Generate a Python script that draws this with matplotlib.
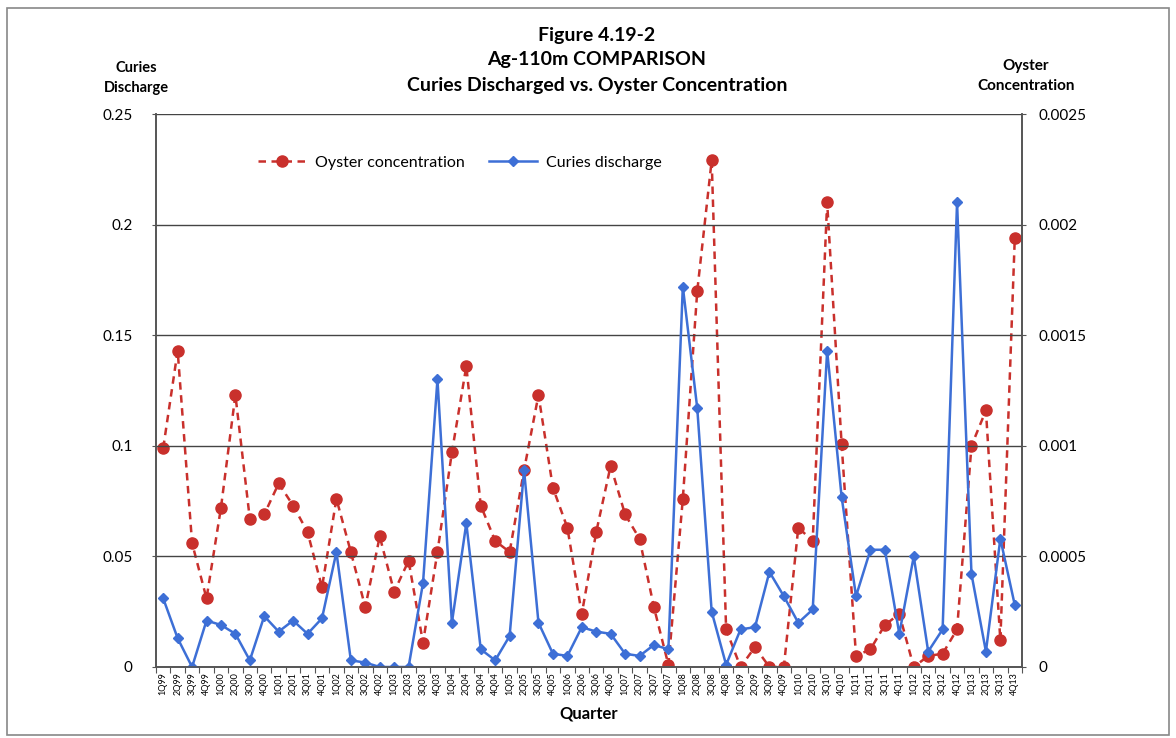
import matplotlib
matplotlib.use("Agg")
import matplotlib.pyplot as plt
from matplotlib.patches import Rectangle
import numpy as np

plt.rcParams['font.family'] = ['Lato', 'DejaVu Sans']

years = ['99', '00', '01', '02', '03', '04', '05', '06', '07', '08', '09', '10', '11', '12', '13']
quarters = [f"{q}Q{y}" for y in years for q in range(1, 5)]

curies_discharge = [0.031, 0.013, 0.0, 0.021, 0.019, 0.015, 0.003, 0.023, 0.016, 0.021,
                    0.015, 0.022, 0.052, 0.003, 0.002, 0.0, 0.0, 0.0, 0.038, 0.130,
                    0.020, 0.065, 0.008, 0.003, 0.014, 0.089, 0.020, 0.006, 0.005, 0.018,
                    0.016, 0.015, 0.006, 0.005, 0.010, 0.008, 0.172, 0.117, 0.025, 0.001,
                    0.017, 0.018, 0.043, 0.032, 0.020, 0.026, 0.143, 0.077, 0.032, 0.053,
                    0.053, 0.015, 0.050, 0.007, 0.017, 0.210, 0.042, 0.007, 0.058, 0.028]

oyster_concentration = [0.00099, 0.00143, 0.00056, 0.00031, 0.00072, 0.00123, 0.00067, 0.00069, 0.00083, 0.00073,
                        0.00061, 0.00036, 0.00076, 0.00052, 0.00027, 0.00059, 0.00034, 0.00048, 0.00011, 0.00052,
                        0.00097, 0.00136, 0.00073, 0.00057, 0.00052, 0.00089, 0.00123, 0.00081, 0.00063, 0.00024,
                        0.00061, 0.00091, 0.00069, 0.00058, 0.00027, 0.00001, 0.00076, 0.00170, 0.00229, 0.00017,
                        0.0, 0.00009, 0.0, 0.0, 0.00063, 0.00057, 0.00210, 0.00101, 0.00005, 0.00008,
                        0.00019, 0.00024, 0.0, 0.00005, 0.00006, 0.00017, 0.00100, 0.00116, 0.00012, 0.00194]

left_ticks = [0, 0.05, 0.1, 0.15, 0.2, 0.25]
left_labels = ['0', '0.05', '0.1', '0.15', '0.2', '0.25']
right_ticks = [0, 0.0005, 0.001, 0.0015, 0.002, 0.0025]
right_labels = ['0', '0.0005', '0.001', '0.0015', '0.002', '0.0025']

RED = '#c9302c'
BLUE = '#3d6fd6'

fig = plt.figure(figsize=(11.76, 7.38), dpi=100)
ax = fig.add_axes([156/1176, 1-667/738, (1022-156)/1176, (667-114)/738])
ax2 = ax.twinx()
ax.set_zorder(ax2.get_zorder() + 1)
ax.patch.set_visible(False)

x = np.arange(len(quarters))
l2, = ax2.plot(x, oyster_concentration, color=RED, linestyle=(0, (3, 2.2)), linewidth=1.8,
               marker='o', markersize=8, label='Oyster concentration')
l1, = ax.plot(x, curies_discharge, color=BLUE, linestyle='-', linewidth=1.8,
              marker='D', markersize=5.5, label='Curies discharge')

ax.set_xlim(-0.5, len(quarters) - 0.5)
ax.set_ylim(0, 0.25)
ax2.set_ylim(0, 0.0025)
ax.set_yticks(left_ticks)
ax.set_yticklabels(left_labels)
ax2.set_yticks(right_ticks)
ax2.set_yticklabels(right_labels)
ax.tick_params(axis='y', length=3, color='#555555', labelsize=11, pad=14)
ax2.tick_params(axis='y', length=3, color='#555555', labelsize=11, pad=9)

ax.set_xticks(np.arange(len(quarters) + 1) - 0.5)
ax.set_xticklabels([])
ax.tick_params(axis='x', which='major', length=4, color='#555555', width=0.8)
ax.set_xticks(x, minor=True)
ax.set_xticklabels(quarters, minor=True, rotation=90, fontsize=6.5)
ax.tick_params(axis='x', which='minor', length=0, pad=4)

ax.grid(axis='y', color='#444444', linewidth=1.0)
ax.set_axisbelow(True)
for a in (ax, ax2):
    for s in a.spines.values():
        s.set_color('#555555')
        s.set_linewidth(1.2)
    a.spines['top'].set_visible(False)

ax.set_xlabel('Quarter', fontsize=12, fontweight='bold', labelpad=7)

fig.text(597/1176, 1-35/738, 'Figure 4.19-2', ha='center', va='center', fontsize=14, fontweight='bold')
fig.text(597/1176, 1-60/738, 'Ag-110m COMPARISON', ha='center', va='center', fontsize=14, fontweight='bold')
fig.text(597/1176, 1-85/738, 'Curies Discharged vs. Oyster Concentration', ha='center', va='center',
         fontsize=14, fontweight='bold')
fig.text(136/1176, 1-78/738, 'Curies\nDischarge', ha='center', va='center', fontsize=10.5,
         fontweight='bold', linespacing=1.6)
fig.text(1026/1176, 1-76/738, 'Oyster\nConcentration', ha='center', va='center', fontsize=11,
         fontweight='bold', linespacing=1.5)

fig.legend(handles=[l2, l1], loc='center', bbox_to_anchor=(460/1176, 1-163/738), ncol=2,
           frameon=False, fontsize=11.5, handlelength=3, columnspacing=1.5, handletextpad=0.6)

fig.patches.append(Rectangle((7/1176, 3/738), 1162/1176, 727/738, transform=fig.transFigure,
                             fill=False, edgecolor='#888888', linewidth=1.2))

fig.savefig('out.png', dpi=100)
